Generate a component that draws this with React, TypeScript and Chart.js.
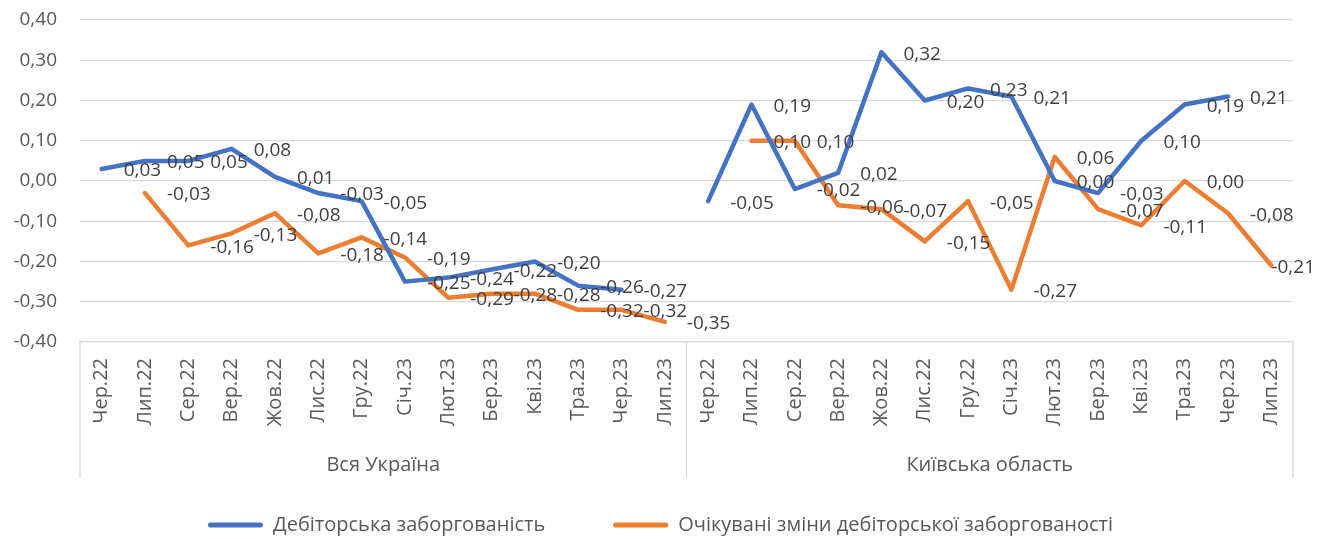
import React, { useEffect, useRef } from "react";
import { Chart, registerables } from "chart.js";

Chart.register(...registerables);

const months = ["Чер.22", "Лип.22", "Сер.22", "Вер.22", "Жов.22", "Лис.22", "Гру.22", "Січ.23", "Лют.23", "Бер.23", "Кві.23", "Тра.23", "Чер.23", "Лип.23"];
const groups = ["Вся Україна", "Київська область"];
const categories = [...months, ...months];

const receivablesUkraine = [0.03, 0.05, 0.05, 0.08, 0.01, -0.03, -0.05, -0.25, -0.24, -0.22, -0.2, -0.26, -0.27, null];
const receivablesKyiv = [-0.05, 0.19, -0.02, 0.02, 0.32, 0.2, 0.23, 0.21, 0.0, -0.03, 0.1, 0.19, 0.21, null];
const expectedUkraine = [null, -0.03, -0.16, -0.13, -0.08, -0.18, -0.14, -0.19, -0.29, -0.28, -0.28, -0.32, -0.32, -0.35];
const expectedKyiv = [null, 0.1, 0.1, -0.06, -0.07, -0.15, -0.05, -0.27, 0.06, -0.07, -0.11, 0.0, -0.08, -0.21];

const seriesNames = ["Дебіторська заборгованість", "Очікувані зміни дебіторської заборгованості"];
const yMin = -0.4;
const yMax = 0.4;
const yStep = 0.1;

const FONT = "'Open Sans', 'Noto Sans', sans-serif";
const BLUE = "#4472C4";
const ORANGE = "#ED7D31";
const GRID = "#D9D9D9";
const TEXT = "#595959";
const LABEL = "#404040";

const fmt = (v: number) => (Math.round(v * 100) / 100).toFixed(2).replace(".", ",");

const dataLabels = {
  id: "dataLabels",
  afterDatasetsDraw(chart: any) {
    const ctx = chart.ctx;
    ctx.save();
    ctx.font = `19px ${FONT}`;
    ctx.fillStyle = LABEL;
    ctx.textAlign = "left";
    ctx.textBaseline = "middle";
    chart.data.datasets.forEach((ds: any, di: number) => {
      const meta = chart.getDatasetMeta(di);
      meta.data.forEach((pt: any, i: number) => {
        const v = ds.data[i];
        if (v === null || v === undefined) return;
        const t = fmt(v);
        const w = ctx.measureText(t).width;
        let x = pt.x + 22;
        x = Math.min(x, chart.width - 12 - w);
        ctx.fillText(t, x, pt.y + 2);
      });
    });
    ctx.restore();
  },
};

const groupAxis = {
  id: "groupAxis",
  beforeDraw(chart: any) {
    const lg = chart.legend;
    if (lg) lg.right = lg.left + lg.width + 28;
  },
  afterDraw(chart: any) {
    const { ctx, chartArea } = chart;
    const x = chart.scales.x;
    const n = months.length;
    const left = chartArea.left;
    const right = chartArea.right;
    const mid = (x.getPixelForValue(n - 1) + x.getPixelForValue(n)) / 2;
    const bottom = chartArea.bottom;
    ctx.save();
    ctx.strokeStyle = GRID;
    ctx.lineWidth = 1.3;
    [left, mid, right].forEach((px) => {
      ctx.beginPath();
      ctx.moveTo(px, bottom);
      ctx.lineTo(px, bottom + 136);
      ctx.stroke();
    });
    ctx.font = `20px ${FONT}`;
    ctx.fillStyle = TEXT;
    ctx.textAlign = "center";
    ctx.textBaseline = "middle";
    ctx.fillText(groups[0], (left + mid) / 2, bottom + 123);
    ctx.fillText(groups[1], (mid + right) / 2, bottom + 123);
    ctx.restore();
  },
};

export default function App() {
  const ref = useRef<HTMLCanvasElement | null>(null);
  useEffect(() => {
    document.body.style.margin = "0";
    if (!ref.current) return;
    const chart = new Chart(ref.current, {
      type: "line",
      data: {
        labels: categories,
        datasets: [
          {
            label: seriesNames[0],
            data: [...receivablesUkraine, ...receivablesKyiv],
            borderColor: BLUE,
            backgroundColor: BLUE,
            borderWidth: 4.5,
            pointRadius: 0,
            borderCapStyle: "round",
            borderJoinStyle: "round",
            spanGaps: false,
            tension: 0,
          },
          {
            label: seriesNames[1],
            data: [...expectedUkraine, ...expectedKyiv],
            borderColor: ORANGE,
            backgroundColor: ORANGE,
            borderWidth: 4.5,
            pointRadius: 0,
            borderCapStyle: "round",
            borderJoinStyle: "round",
            spanGaps: false,
            tension: 0,
          },
        ],
      },
      options: {
        responsive: false,
        animation: false,
        layout: { padding: { top: 20, right: 34, bottom: -6, left: 0 } },
        plugins: {
          tooltip: { enabled: false },
          legend: {
            position: "bottom",
            labels: {
              font: { family: FONT, size: 20 },
              color: TEXT,
              boxWidth: 55,
              boxHeight: 5,
              padding: 68,
              useBorderRadius: true,
              borderRadius: 2.5,
              generateLabels: (c: any) =>
                Chart.defaults.plugins.legend.labels.generateLabels(c).map((it: any) => ({ ...it, lineWidth: 0 })),
            },
          },
        },
        scales: {
          x: {
            type: "category",
            offset: true,
            grid: { display: false, drawTicks: false },
            border: { display: true, color: GRID, width: 1.3 },
            ticks: {
              font: { family: FONT, size: 20 },
              color: TEXT,
              minRotation: 90,
              maxRotation: 90,
              autoSkip: false,
              padding: 16,
            },
            afterFit: (s: any) => {
              s.height = 105;
            },
          },
          y: {
            min: yMin,
            max: yMax,
            grid: { color: GRID, lineWidth: 1.3, drawTicks: true, tickLength: 23, tickColor: "rgba(0,0,0,0)" },
            border: { display: false },
            ticks: {
              stepSize: yStep,
              font: { family: FONT, size: 19 },
              color: TEXT,
              padding: 0,
              callback: (v: any) => fmt(Number(v)),
            },
            afterFit: (s: any) => {
              s.width = 80;
            },
          },
        },
      },
      plugins: [dataLabels, groupAxis],
    } as any);
    return () => chart.destroy();
  }, []);
  return (
    <div style={{ width: 1327, height: 539 }}>
      <canvas ref={ref} width={1327} height={539} style={{ display: "block" }} />
    </div>
  );
}
